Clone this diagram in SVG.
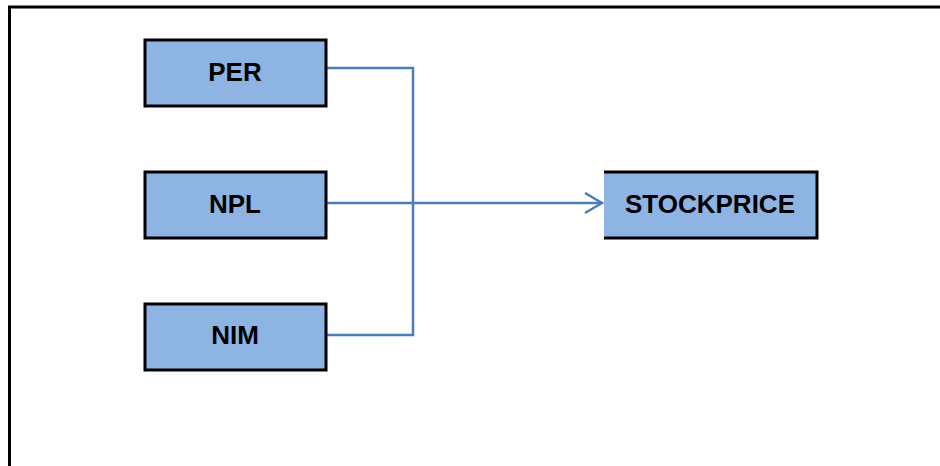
<svg xmlns="http://www.w3.org/2000/svg" width="940" height="466" viewBox="0 0 940 466">
<style>
.box{fill:#8eb4e3;stroke:#000;stroke-width:3}
.lbl{font-family:"Liberation Sans",Arial,sans-serif;font-weight:bold;font-size:26px;fill:#000;text-anchor:middle}
.conn{fill:none;stroke:#4a7ebb;stroke-width:2.5}
</style>
<defs>
<marker id="arr" markerWidth="20" markerHeight="24" refX="18" refY="11" orient="auto" markerUnits="userSpaceOnUse">
<path d="M1,1 L18,11 L1,21" fill="none" stroke="#4a7ebb" stroke-width="2.5"/>
</marker>
</defs>
<rect x="0" y="0" width="940" height="466" fill="#fff"/>
<g id="frame">
<path d="M9.5,466 V7 H940" fill="none" stroke="#000" stroke-width="3"/>
</g>
<g id="connectors">
<path class="conn" d="M326,68 H413 V335 H326"/>
<path class="conn" d="M326,203 H602" marker-end="url(#arr)"/>
</g>
<g id="PER">
<rect class="box" x="145" y="40" width="181" height="66"/>
<text class="lbl" x="235" y="81">PER</text>
</g>
<g id="NPL">
<rect class="box" x="145" y="172" width="181" height="66"/>
<text class="lbl" x="235" y="213">NPL</text>
</g>
<g id="NIM">
<rect class="box" x="145" y="304" width="181" height="66"/>
<text class="lbl" x="235" y="344">NIM</text>
</g>
<g id="STOCKPRICE">
<rect x="604" y="172" width="213" height="66" fill="#8eb4e3"/>
<path d="M604,172 H817 V238 H604" fill="none" stroke="#000" stroke-width="3"/>
<text class="lbl" x="710" y="213">STOCKPRICE</text>
</g>
</svg>
